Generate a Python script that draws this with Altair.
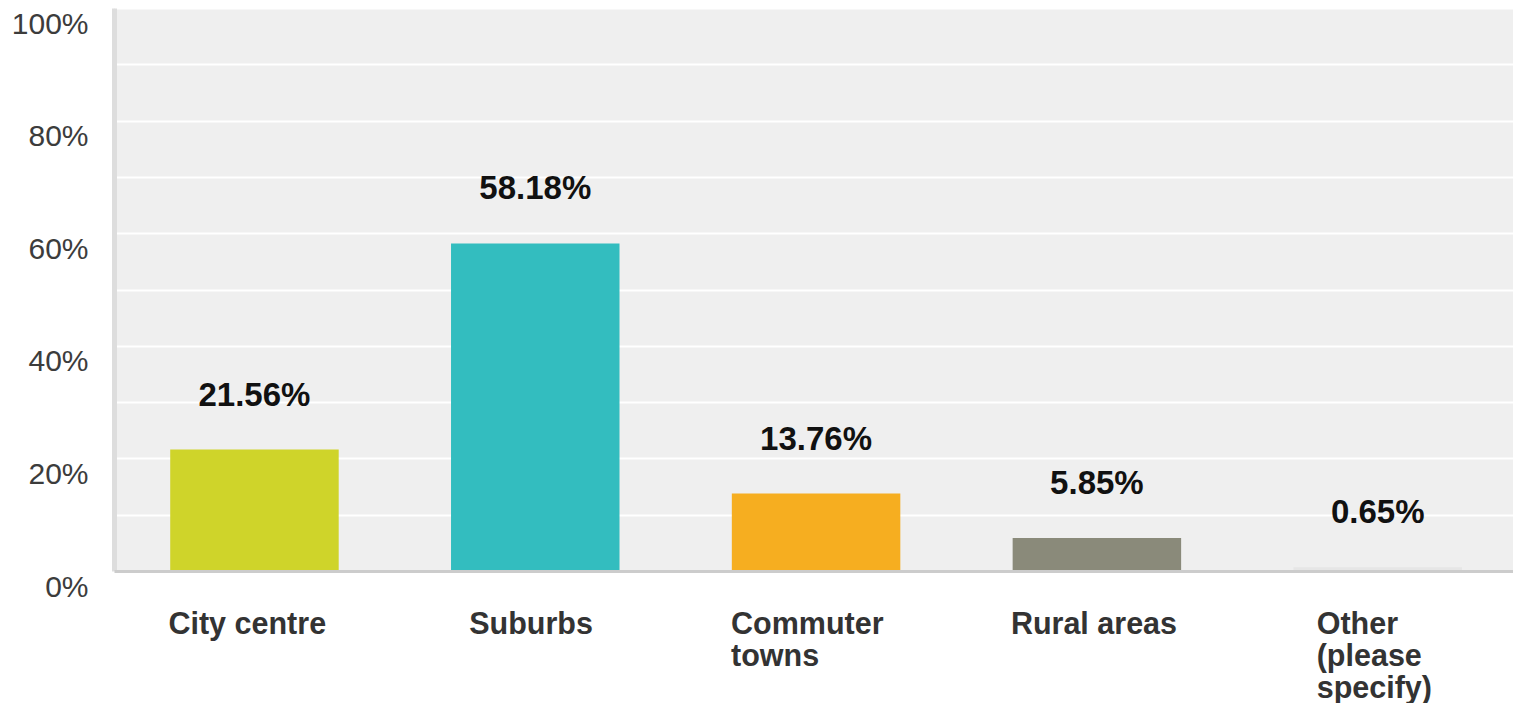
import json
import altair as alt
import pandas as pd

categories = ["City centre", "Suburbs", "Commuter towns", "Rural areas", "Other (please specify)"]
label_lines = [["City centre"], ["Suburbs"], ["Commuter", "towns"], ["Rural areas"], ["Other", "(please", "specify)"]]
percentages = [21.56, 58.18, 13.76, 5.85, 0.65]
colors = ["#cfd42a", "#33bdbf", "#f6ae20", "#8a8a7a", "#e6e6e6"]
y_ticks = [0, 10, 20, 30, 40, 50, 60, 70, 80, 90, 100]

df = pd.DataFrame({"category": categories, "value": percentages})

# multi-line tick labels
label_expr = ""
for cat, lines in zip(categories, label_lines):
    label_expr += f"datum.value == '{cat}' ? {json.dumps(lines)} : "
label_expr += "datum.value"

# left-aligned label blocks, shifted so the block sits centred under its bar
label_shift = {"City centre": -86, "Suburbs": -66, "Commuter towns": -85,
               "Rural areas": -86, "Other (please specify)": -61}
offset_expr = ""
for cat, s in label_shift.items():
    offset_expr += f"datum.value == '{cat}' ? {s} : "
offset_expr += "-86"

x_axis = alt.Axis(
    title=None, labelAngle=0, labelAlign="left", labelBaseline="top",
    labelPadding=38, labelFont="Liberation Sans", labelFontWeight="bold",
    labelFontSize=30.5, labelColor="#333333", labelLineHeight=32,
    labelExpr=label_expr, labelOffset=alt.ExprRef(expr=offset_expr),
    labelLimit=400, labelOverlap=False, labelFlush=False,
    domainColor="#cccccc", domainWidth=3, ticks=False, tickSize=0,
    grid=False, zindex=1,
)

y_axis = alt.Axis(
    title=None, values=y_ticks,
    labelExpr="datum.value % 20 == 0 ? datum.value + '%' : ''",
    grid=True, gridColor="#ffffff", gridWidth=2,
    domainColor="#dddddd", domainWidth=5, ticks=False, tickSize=0,
    labelPadding=26, labelFont="Liberation Sans", labelFontSize=30,
    labelColor="#3c3c3c", labelBaseline="top", labelOffset=1,
    labelOverlap=False, labelFlush=False,
)

base = alt.Chart(df).transform_calculate(
    label="format(datum.value, '.2f') + '%'"
).encode(
    x=alt.X("category:N", sort=categories,
            scale=alt.Scale(paddingInner=0.4, paddingOuter=0.191, align=0.524),
            axis=x_axis),
)

bars = base.mark_bar().encode(
    y=alt.Y("value:Q", scale=alt.Scale(domain=[0, 100]), axis=y_axis),
    color=alt.Color("category:N", scale=alt.Scale(domain=categories, range=colors), legend=None),
)

text = base.mark_text(
    dy=-44, baseline="alphabetic", font="Liberation Sans", fontWeight="bold",
    fontSize=33, color="#111111",
).encode(
    y=alt.Y("value:Q"),
    text="label:N",
)

chart = alt.layer(bars, text).properties(
    width=1399, height=563,
    autosize=alt.AutoSizeParams(type="none"),
    padding={"left": 106, "top": 0, "right": 0, "bottom": 132},
    background="#ffffff",
).configure_view(
    fill="#efefef", strokeWidth=0,
)

chart.save("out.html", embed_options={"renderer": "svg", "actions": False})
